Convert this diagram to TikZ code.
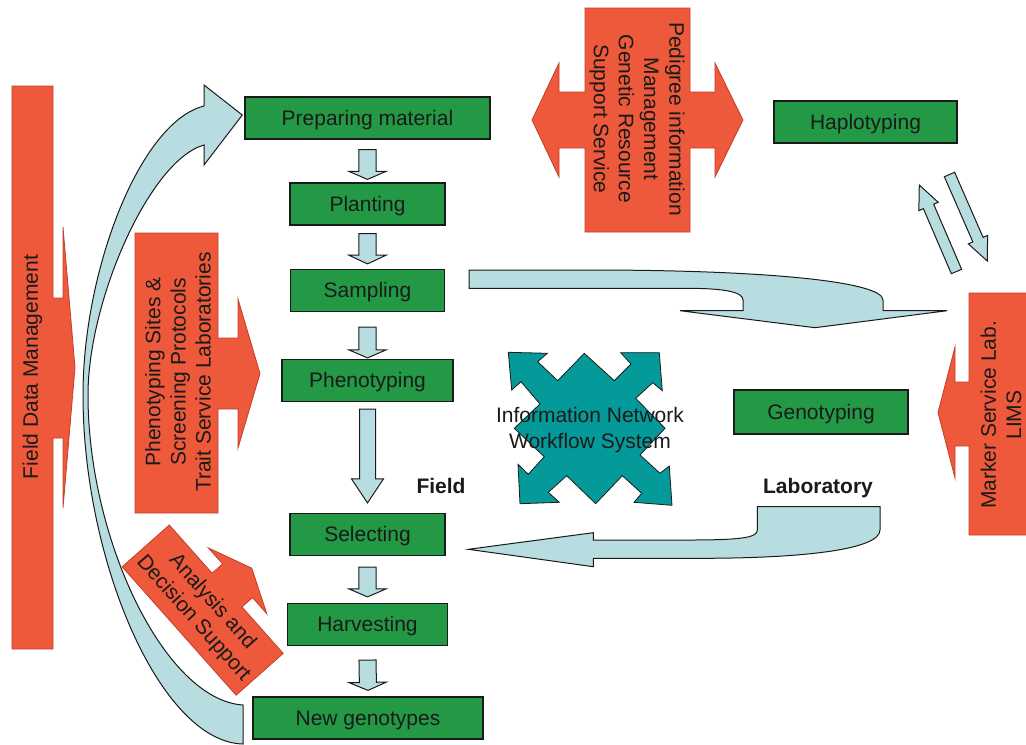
\documentclass[tikz,border=0pt]{standalone}
\usepackage{fontspec}
\setmainfont{Liberation Sans}
\usetikzlibrary{calc}

\definecolor{boxgreen}{RGB}{35,153,70}
\definecolor{flowblue}{RGB}{184,221,224}
\definecolor{servorange}{RGB}{237,89,58}
\definecolor{servedge}{RGB}{196,62,44}
\definecolor{netteal}{RGB}{5,154,154}
\definecolor{ink}{RGB}{26,26,26}

% straight block arrow: tail, tip, shaft half-width, head half-width, head length
\newcommand\blockarrow[5]{%
  \coordinate (ba-h) at ($(#2)!#5!(#1)$);
  \draw[flow] ($(#1)!#3!90:(#2)$) -- ($(ba-h)!#3!90:(#2)$) -- ($(ba-h)!#4!90:(#2)$)
    -- (#2) -- ($(ba-h)!#4!-90:(#2)$) -- ($(ba-h)!#3!-90:(#2)$) -- ($(#1)!#3!-90:(#2)$) -- cycle;
}

\tikzset{
  txt/.style={font=\fontsize{15.75}{18.9}\selectfont, text=ink, inner sep=0pt},
  stage/.style={txt, draw=ink, line width=0.9pt, fill=boxgreen, minimum height=31.5pt,
    text height=11pt, text depth=0pt},
  flow/.style={draw=ink, line width=0.75pt, fill=flowblue, line join=miter},
  service/.style={draw=servedge, line width=0.6pt, fill=servorange},
  net/.style={draw=ink, line width=0.6pt, fill=netteal},
  tag/.style={txt, font=\fontsize{15.75}{18.9}\selectfont\bfseries},
}

\begin{document}
\begin{tikzpicture}[x=0.75pt, y=-0.75pt]
\useasboundingbox (0,0) rectangle (1026,744);

% ---------- service callouts ----------
\draw[service] (12,86) -- (53,86) -- (53,298) -- (63,298) -- (63,227) -- (75,367.5)
  -- (63,508) -- (63,438) -- (53,438) -- (53,649) -- (12,649) -- cycle;
\node[txt, rotate=90] (fdm) at (32.5,367) {Field Data Management};

\draw[service] (135,233) -- (218,233) -- (218,338) -- (238,338) -- (238,299) -- (260,373.5)
  -- (238,448) -- (238,409) -- (218,409) -- (218,513) -- (135,513) -- cycle;
\node[txt, rotate=90, align=center] (pheno-sites) at (178,372)
  {Phenotyping Sites \&\\Screening Protocols\\Trait Service Laboratories};

\draw[service] (585,8) -- (690,8) -- (690,92) -- (715,92) -- (715,63) -- (743,120)
  -- (715,177) -- (715,148) -- (690,148) -- (690,232) -- (585,232) -- (585,148)
  -- (559,148) -- (559,177) -- (532,120) -- (559,63) -- (559,92) -- (585,92) -- cycle;
\node[txt, rotate=-90, align=center] (pedigree) at (637,119)
  {Pedigree information\\Management\\Genetic Resource\\Support Service};

\draw[service] (969,293) -- (1030,293) -- (1030,535) -- (969,535) -- (969,446) -- (955,446)
  -- (955,478) -- (938,412.5) -- (955,347) -- (955,382) -- (969,382) -- cycle;
\node[txt, rotate=90, align=center] (marker) at (1001,415) {Marker Service Lab.\\LIMS};

\draw[service] (169.3,525) -- (212.1,573.2) -- (222.6,563.9) -- (208.4,547.9) -- (251.8,568.2)
  -- (266.8,613.7) -- (252.5,597.6) -- (242.0,606.9) -- (283.2,653.4) -- (236.1,695.2)
  -- (122.2,566.8) -- cycle;
\node[txt, rotate=-48.4, align=center] (analysis) at (202.7,610.1) {Analysis and\\Decision Support};

% ---------- workflow stages ----------
\node[stage, minimum width={245*0.75pt}] (prep)    at (367.5,118)   {Preparing material};
\node[stage, minimum width={155*0.75pt}] (plant)   at (367.5,204)   {Planting};
\node[stage, minimum width={154*0.75pt}] (samp)    at (367.5,290.5) {Sampling};
\node[stage, minimum width={171*0.75pt}] (pheno)   at (367.5,380.5) {Phenotyping};
\node[stage, minimum width={155*0.75pt}] (select)  at (367.5,534.5) {Selecting};
\node[stage, minimum width={160*0.75pt}] (harvest) at (367.5,624.5) {Harvesting};
\node[stage, minimum width={230*0.75pt}] (newgen)  at (368,718)     {New genotypes};
\node[stage, minimum width={183*0.75pt}] (haplo)   at (865.5,122)   {Haplotyping};
\node[stage, minimum width={174*0.75pt}, minimum height=33pt] (geno) at (821,412) {Genotyping};

\node[tag, anchor=base] (field) at (441,493) {Field};
\node[tag, anchor=base] (lab)   at (818,493) {Laboratory};

% ---------- arrows down the field column ----------
\coordinate (a1) at ($(prep.south)+(0,10)$);    \coordinate (b1) at ($(plant.north)+(0,-3)$);
\coordinate (a2) at ($(plant.south)+(0,8)$);    \coordinate (b2) at ($(samp.north)+(0,-5)$);
\coordinate (a3) at ($(samp.south)+(0,15)$);    \coordinate (b3) at ($(pheno.north)+(0,-1)$);
\coordinate (a4) at ($(pheno.south)+(0,7)$);    \coordinate (b4) at ($(select.north)+(0,-10)$);
\coordinate (a5) at ($(select.south)+(0,11)$);  \coordinate (b5) at ($(harvest.north)+(0,-6)$);
\coordinate (a6) at ($(harvest.south)+(0,14)$); \coordinate (b6) at ($(newgen.north)+(0,-6)$);
\blockarrow{a1}{b1}{6.4pt}{13.9pt}{6pt}
\blockarrow{a2}{b2}{6.4pt}{13.9pt}{6.5pt}
\blockarrow{a3}{b3}{6.4pt}{13.9pt}{6pt}
\blockarrow{a4}{b4}{6pt}{12pt}{18pt}
\blockarrow{a5}{b5}{6.4pt}{13.9pt}{6pt}
\blockarrow{a6}{b6}{6.4pt}{13.9pt}{6pt}

% ---------- haplotyping <-> marker lab ----------
\coordinate (up-tail) at (956.5,271.5); \coordinate (up-tip) at (919.3,185);
\coordinate (dn-tail) at (949.5,174.5); \coordinate (dn-tip) at (987.3,261);
\blockarrow{up-tail}{up-tip}{4.2pt}{7.9pt}{17.5pt}
\blockarrow{dn-tail}{dn-tip}{4.2pt}{7.9pt}{17.5pt}

% ---------- loop from new genotypes back to preparing material ----------
\draw[flow] (243,744) .. controls (160,742) and (83,560) .. (83,395)
  .. controls (83,270) and (140,122) .. (204,106) -- (204,85) -- (242.3,115) -- (204,165)
  -- (204,145) .. controls (150,160) and (88,300) .. (88,395)
  .. controls (88,540) and (165,700) .. (243,705) -- cycle;

% ---------- field -> laboratory ----------
\draw[flow] (469,270) -- (590,270) .. controls (770,270) and (883,282) .. (883,300)
  -- (883,310.7) -- (947,310.7) -- (815,327.7) -- (680,310.7) -- (743,310.7) -- (743,300)
  .. controls (743,292) and (725,288.3) .. (686,288.3) -- (469,288.3) -- cycle;

% ---------- laboratory -> field ----------
\draw[flow] (880,506.7) -- (880,530) .. controls (880,550) and (800,558.3) .. (700,558.3)
  -- (593.3,558.3) -- (593.3,566.7) -- (468.3,549.3) -- (593.3,532.7) -- (593.3,540)
  -- (690,540) .. controls (745,540) and (757.3,537) .. (757.3,530) -- (757.3,506.7) -- cycle;

% ---------- information network ----------
\draw[net] (508.3,352.3) -- (547.3,353.3) -- (537.7,361.7) -- (557.7,380.7) -- (584.3,353.3)
  -- (614.3,380.7) -- (631,364) -- (620.7,352.7) -- (659.3,352.7) -- (662.3,390.7)
  -- (652.7,382.7) -- (635.7,398.3) -- (665,428.3) -- (640,455) -- (660,473.3) -- (669.3,466)
  -- (672,505.3) -- (634,502.3) -- (641.7,493.3) -- (622.3,475.7) -- (595.7,503.7)
  -- (566.7,475.7) -- (548.3,492.3) -- (559.3,502.3) -- (520,503.7) -- (518,464.3)
  -- (528.3,474.3) -- (544.3,456.7) -- (514.3,428.3) -- (540,404) -- (521,381.7)
  -- (511.7,390) -- cycle;
\node[txt, align=center] (network) at (590,430) {Information Network\\Workflow System};
\end{tikzpicture}
\end{document}
